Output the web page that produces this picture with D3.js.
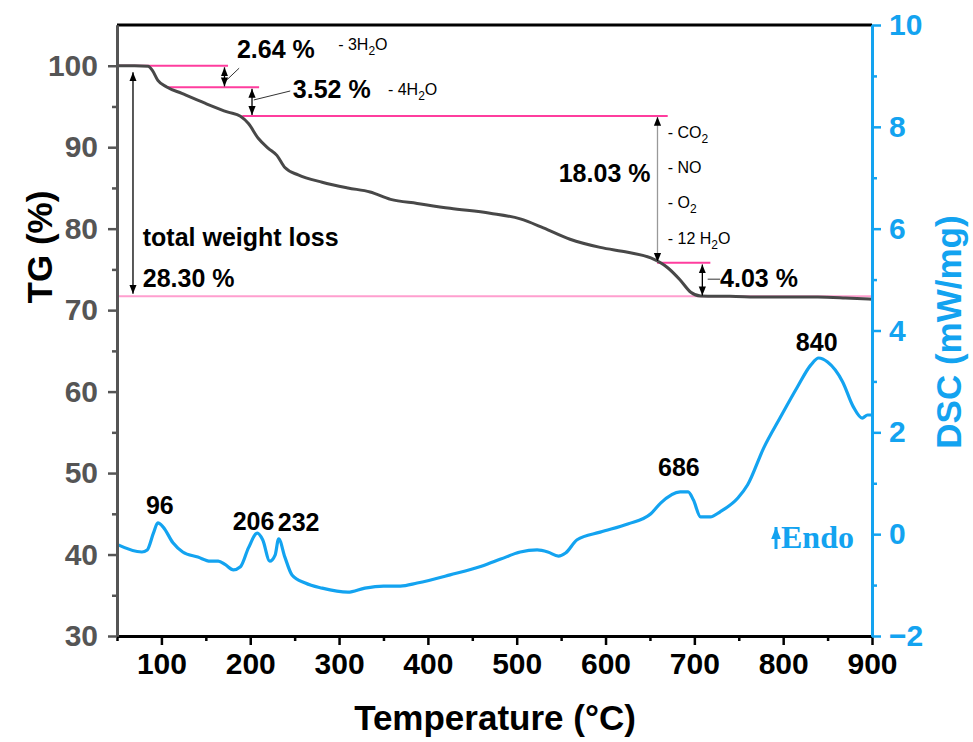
<!DOCTYPE html>
<html>
<head>
<meta charset="utf-8">
<script src="https://cdn.jsdelivr.net/npm/d3@7"></script>
<style>
  body { margin: 0; background: #fff; }
  text { font-family: "Liberation Sans", Arial, sans-serif; }
</style>
</head>
<body>
<div id="chart-area"></div>
<script>
// TG curve (temperature °C, mass %)
var tgTemp = [50, 70, 85, 90, 96, 106, 123, 149, 175, 189, 198, 209, 220, 230, 239, 254, 281, 310, 335, 358, 388, 425, 470, 504, 530, 560, 594, 625, 651, 670, 684, 696, 707, 740, 782, 839, 870, 900];
var tgVal = [100, 100, 99.95, 99.4, 98.2, 97.4, 96.6, 95.4, 94.3, 93.8, 92.9, 91.1, 89.9, 89.0, 87.5, 86.6, 85.7, 85.0, 84.5, 83.6, 83.1, 82.5, 81.9, 81.2, 80.1, 78.7, 77.7, 77.1, 76.4, 75.2, 73.7, 72.2, 71.75, 71.7, 71.6, 71.6, 71.5, 71.35];

// DSC curve (temperature °C, mW/mg)
var dscTemp = [50, 78, 84, 91, 96, 102, 113, 124, 141, 155, 164, 172, 181, 189, 198, 208, 214, 222, 228, 232, 239, 247, 262, 281, 310, 329, 350, 369, 388, 425, 462, 482, 504, 523, 535, 547, 555, 568, 594, 625, 651, 662, 684, 693, 699, 707, 718, 729, 749, 760, 778, 797, 816, 831, 840, 850, 867, 879, 889, 895, 900];
var dscVal = [-0.2, -0.35, -0.31, 0.02, 0.22, 0.14, -0.17, -0.35, -0.45, -0.53, -0.53, -0.6, -0.7, -0.64, -0.27, 0.02, -0.11, -0.53, -0.41, -0.09, -0.45, -0.8, -0.96, -1.06, -1.14, -1.06, -1.02, -1.02, -0.96, -0.8, -0.62, -0.49, -0.35, -0.31, -0.35, -0.43, -0.37, -0.11, 0.04, 0.2, 0.4, 0.61, 0.83, 0.83, 0.67, 0.34, 0.34, 0.44, 0.71, 0.97, 1.69, 2.3, 2.89, 3.32, 3.46, 3.38, 2.99, 2.5, 2.28, 2.34, 2.34];

// axis ticks
var xTicks = [100, 200, 300, 400, 500, 600, 700, 800, 900];
var xMinor = [50, 150, 250, 350, 450, 550, 650, 750, 850];
var tgTicks = [30, 40, 50, 60, 70, 80, 90, 100];
var tgMinor = [35, 45, 55, 65, 75, 85, 95];
var dscTicks = [-2, 0, 2, 4, 6, 8, 10];
var dscMinor = [-1, 1, 3, 5, 7, 9];

// mass loss steps
var stepLevels = [100, 97.36, 93.84, 75.81, 71.70];
var stepLabels = ["2.64 %", "3.52 %", "18.03 %", "4.03 %"];
var peakTemps = [96, 206, 232, 686, 840];

var width = 973;
var height = 742;
var blue = "#13a3f0";
var grey = "#555555";
var pink = "#ff3d9e";

var svg = d3.select("#chart-area")
    .append("svg")
    .attr("width", width)
    .attr("height", height);

var defs = svg.append("defs");
function marker(id, color, size) {
    defs.append("marker")
        .attr("id", id)
        .attr("viewBox", "0 0 10 10")
        .attr("refX", 10)
        .attr("refY", 5)
        .attr("markerUnits", "userSpaceOnUse")
        .attr("markerWidth", size)
        .attr("markerHeight", size)
        .attr("orient", "auto-start-reverse")
        .append("path")
        .attr("d", "M0,1 L10,5 L0,9 Z")
        .attr("fill", color);
}
marker("ah", "#000", 9);
marker("ahb", blue, 12);

var x = d3.scaleLinear().domain([50, 900]).range([117, 872]);
var yL = d3.scaleLinear().domain([30, 105]).range([636, 25]);
var yR = d3.scaleLinear().domain([-2, 10]).range([636, 25]);

// frame top
svg.append("line")
    .attr("x1", 117).attr("x2", 872)
    .attr("y1", 25).attr("y2", 25)
    .attr("stroke", "#000").attr("stroke-width", 3);

// horizontal step lines
var stepSpans = [[50, 175], [106, 210], [191, 670], [658, 718]];
stepSpans.forEach(function(s, i) {
    svg.append("line")
        .attr("x1", x(s[0])).attr("x2", x(s[1]))
        .attr("y1", yL(stepLevels[i])).attr("y2", yL(stepLevels[i]))
        .attr("stroke", pink).attr("stroke-width", 2);
});
svg.append("line")
    .attr("x1", x(50)).attr("x2", x(900))
    .attr("y1", yL(stepLevels[4])).attr("y2", yL(stepLevels[4]))
    .attr("stroke", "#ff9fcf").attr("stroke-width", 2);

// curves
var tgData = tgTemp.map(function(t, i) { return [t, tgVal[i]]; });
var dscData = dscTemp.map(function(t, i) { return [t, dscVal[i]]; });

svg.append("path")
    .datum(tgData)
    .attr("fill", "none")
    .attr("stroke", "#484848")
    .attr("stroke-width", 3)
    .attr("d", d3.line()
        .x(function(d) { return x(d[0]); })
        .y(function(d) { return yL(d[1]); })
        .curve(d3.curveMonotoneX));

svg.append("path")
    .datum(dscData)
    .attr("fill", "none")
    .attr("stroke", blue)
    .attr("stroke-width", 3.2)
    .attr("d", d3.line()
        .x(function(d) { return x(d[0]); })
        .y(function(d) { return yR(d[1]); })
        .curve(d3.curveMonotoneX));

// axes
function styleAxis(g, color) {
    g.select(".domain").attr("stroke", color).attr("stroke-width", 3);
    g.selectAll(".tick line").attr("stroke", color).attr("stroke-width", 2.5);
    g.selectAll(".tick text")
        .attr("fill", color)
        .style("font-family", "'Liberation Sans', Arial, sans-serif")
        .style("font-weight", "bold")
        .style("font-size", "30px");
}

var gx = svg.append("g").attr("transform", "translate(0,636)")
    .call(d3.axisBottom(x).tickValues(xTicks).tickSize(9).tickSizeOuter(0).tickPadding(8));
styleAxis(gx, "#000");
var gx2 = svg.append("g").attr("transform", "translate(0,636)")
    .call(d3.axisBottom(x).tickValues(xMinor).tickSize(5).tickSizeOuter(0).tickFormat(""));
styleAxis(gx2, "#000");

var gl = svg.append("g").attr("transform", "translate(117,0)")
    .call(d3.axisLeft(yL).tickValues(tgTicks).tickSize(9).tickSizeOuter(0).tickPadding(10));
styleAxis(gl, grey);
var gl2 = svg.append("g").attr("transform", "translate(117,0)")
    .call(d3.axisLeft(yL).tickValues(tgMinor).tickSize(5).tickSizeOuter(0).tickFormat(""));
styleAxis(gl2, grey);

var gr = svg.append("g").attr("transform", "translate(872,0)")
    .call(d3.axisRight(yR).tickValues(dscTicks).tickSize(9).tickSizeOuter(0).tickPadding(8));
styleAxis(gr, blue);
var gr2 = svg.append("g").attr("transform", "translate(872,0)")
    .call(d3.axisRight(yR).tickValues(dscMinor).tickSize(5).tickSizeOuter(0).tickFormat(""));
styleAxis(gr2, blue);

// axis titles
svg.append("text")
    .attr("x", 495).attr("y", 730)
    .attr("text-anchor", "middle")
    .style("font-weight", "bold").style("font-size", "35px")
    .text("Temperature (\u00B0C)");

svg.append("text")
    .attr("transform", "translate(52,247) rotate(-90)")
    .attr("text-anchor", "middle")
    .style("font-weight", "bold").style("font-size", "35px")
    .text("TG (%)");

svg.append("text")
    .attr("transform", "translate(961,332) rotate(-90)")
    .attr("text-anchor", "middle")
    .attr("fill", blue)
    .style("font-weight", "bold").style("font-size", "35px")
    .text("DSC (mW/mg)");

// arrows
function arrow(t1, v1, t2, v2, color) {
    svg.append("line")
        .attr("x1", x(t1)).attr("y1", yL(v1))
        .attr("x2", x(t2)).attr("y2", yL(v2))
        .attr("stroke", color).attr("stroke-width", 1.3)
        .attr("marker-start", "url(#ah)")
        .attr("marker-end", "url(#ah)");
}
arrow(171, stepLevels[0] - 0.2, 171, stepLevels[1] + 0.1, "#000");
arrow(202, stepLevels[1] - 0.2, 202, stepLevels[2] + 0.1, "#000");
arrow(658.5, stepLevels[2] - 0.1, 658.5, stepLevels[3] + 0.1, "#999");
arrow(709, stepLevels[3] - 0.2, 709, stepLevels[4] + 0.1, "#000");
arrow(68, stepLevels[0] - 0.8, 68, stepLevels[4] + 0.3, "#000");

function leader(t1, v1, t2, v2) {
    svg.append("line")
        .attr("x1", x(t1)).attr("y1", yL(v1))
        .attr("x2", x(t2)).attr("y2", yL(v2))
        .attr("stroke", "#333").attr("stroke-width", 1);
}
leader(174, 98.3, 187.5, 99.7);
leader(204, 95.8, 245, 96.9);
leader(715, 73.8, 729, 73.8);

// labels
function label(t, v, txt, size, anchor) {
    return svg.append("text")
        .attr("x", x(t)).attr("y", yL(v))
        .attr("text-anchor", anchor || "start")
        .style("font-weight", "bold").style("font-size", size + "px")
        .text(txt);
}
label(185, 101.0, stepLabels[0], 25);
label(248, 96.1, stepLabels[1], 25);
label(650.6, 85.7, stepLabels[2], 25, "end");
label(729, 72.8, stepLabels[3], 25);
label(79, 77.9, "total weight loss", 25);
label(79, 72.9, "28.30 %", 25);

// released species, "_" marks a subscript 2
function species(t, v, before, sub, after) {
    var tx = svg.append("text")
        .attr("x", x(t)).attr("y", yL(v))
        .style("font-size", "16px");
    tx.append("tspan").text(before);
    if (sub) {
        tx.append("tspan").attr("dy", 5).style("font-size", "12px").text(sub);
        if (after) tx.append("tspan").attr("dy", -5).text(after);
    }
}
species(299, 101.9, "- 3H", "2", "O");
species(355, 96.4, "- 4H", "2", "O");
species(670, 91.1, "- CO", "2", "");
species(670, 86.8, "- NO", "", "");
species(670, 82.5, "- O", "2", "");
species(670, 78.1, "- 12 H", "2", "O");

// DSC peak labels
var dscAt = d3.scaleLinear().domain(dscTemp).range(dscVal);
var peakOffsets = [[2, -9], [-2, -6], [20, -8], [-3, -16], [-2, -7]];
peakTemps.forEach(function(t, i) {
    svg.append("text")
        .attr("x", x(t) + peakOffsets[i][0])
        .attr("y", yR(dscAt(t)) + peakOffsets[i][1])
        .attr("text-anchor", "middle")
        .style("font-weight", "bold").style("font-size", "25px")
        .text(t);
});

// Endo marker
svg.append("line")
    .attr("x1", 776).attr("y1", 549)
    .attr("x2", 776).attr("y2", 527)
    .attr("stroke", blue).attr("stroke-width", 3)
    .attr("marker-end", "url(#ahb)");
svg.append("text")
    .attr("x", 781).attr("y", 548)
    .attr("fill", blue)
    .style("font-family", "'Liberation Serif', 'Times New Roman', serif")
    .style("font-weight", "bold").style("font-size", "32px")
    .text("Endo");
</script>
</body>
</html>
